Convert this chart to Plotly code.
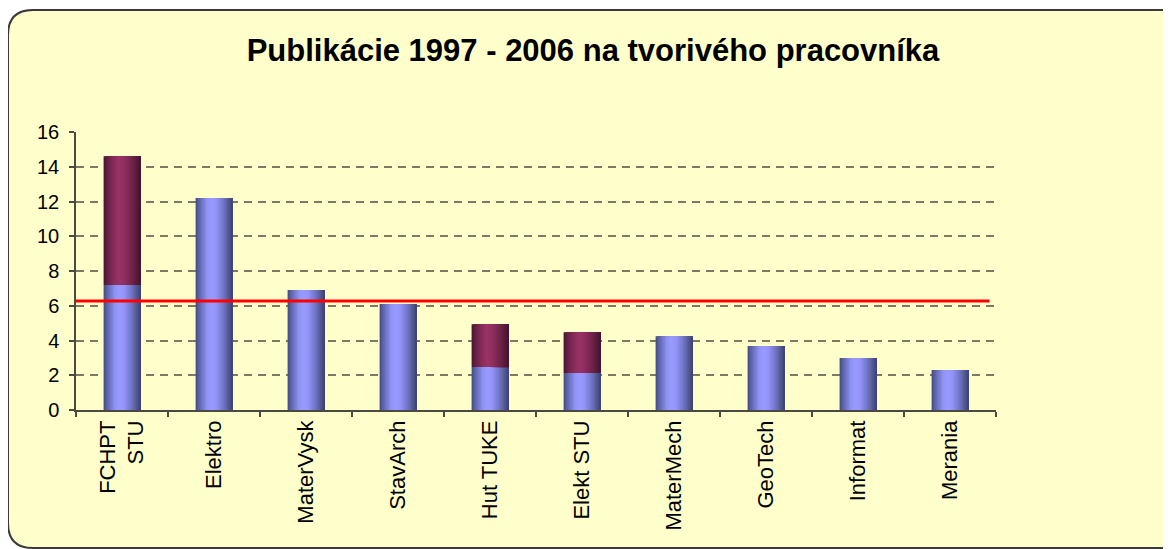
import plotly.graph_objects as go

# ---- data ----
categories = ["FCHPT<br>STU", "Elektro", "MaterVysk", "StavArch", "Hut TUKE",
              "Elekt STU", "MaterMech", "GeoTech", "Informat", "Merania"]
lower_values = [7.2, 12.2, 6.9, 6.1, 2.47, 2.13, 4.25, 3.68, 2.99, 2.3]
upper_values = [7.4, None, None, None, 2.47, 2.35, None, None, None, None]
average_value = 6.27
y_ticks = [0, 2, 4, 6, 8, 10, 12, 14, 16]
title_text = "Publikácie 1997 - 2006 na tvorivého pracovníka"

# ---- styling ----
W, H = 1171, 549
OFF = 8  # page body margin offset
L, T = 76 - OFF, 132 - OFF
PW, PH = 920, 278
R = W - L - PW
B = H - T - PH
FONT = "Liberation Sans, Arial, sans-serif"
BAR_W = 0.4
N_SLICES = 28


def hex2rgb(h):
    h = h.lstrip("#")
    return tuple(int(h[i:i + 2], 16) for i in (0, 2, 4))


def shade(stops, t):
    for (t0, c0), (t1, c1) in zip(stops, stops[1:]):
        if t0 <= t <= t1:
            f = 0 if t1 == t0 else (t - t0) / (t1 - t0)
            a, b = hex2rgb(c0), hex2rgb(c1)
            return "rgb(%d,%d,%d)" % tuple(round(a[k] + (b[k] - a[k]) * f) for k in range(3))
    return stops[-1][1]


blue_stops = [(0, "#444a82"), (0.12, "#6469b4"), (0.32, "#9096f4"), (0.42, "#9999ff"),
              (0.55, "#9595fa"), (0.75, "#7277c8"), (0.9, "#535893"), (1, "#3e4270")]
plum_stops = [(0, "#4a1430"), (0.12, "#6a2248"), (0.32, "#8e2f5e"), (0.42, "#993366"),
              (0.55, "#932f60"), (0.75, "#74244c"), (0.9, "#581b3a"), (1, "#45132c")]

fig = go.Figure()

upper_base = [lo if up is not None else None for lo, up in zip(lower_values, upper_values)]

for values, base, stops in [(lower_values, None, blue_stops),
                            (upper_values, upper_base, plum_stops)]:
    for i in range(N_SLICES):
        t = (i + 0.5) / N_SLICES
        fig.add_trace(go.Bar(
            x=categories, y=values, base=base,
            width=BAR_W * (1 - i / N_SLICES),
            offset=-BAR_W / 2 + BAR_W * i / N_SLICES,
            marker=dict(color=shade(stops, t), line=dict(width=0)),
            showlegend=False, hoverinfo="skip",
        ))


# rounded background panel (figure pixel -> paper conversion)
def px(x):
    return (x - L) / PW


def py(y):
    return (T + PH - y) / PH


x0, y0, x1, y1, r = 8 - OFF, 10 - OFF, 1186 - OFF, 548 - OFF, 25
path = (f"M {px(x0 + r)},{py(y0)} L {px(x1 - r)},{py(y0)} "
        f"Q {px(x1)},{py(y0)} {px(x1)},{py(y0 + r)} "
        f"L {px(x1)},{py(y1 - r)} Q {px(x1)},{py(y1)} {px(x1 - r)},{py(y1)} "
        f"L {px(x0 + r)},{py(y1)} Q {px(x0)},{py(y1)} {px(x0)},{py(y1 - r)} "
        f"L {px(x0)},{py(y0 + r)} Q {px(x0)},{py(y0)} {px(x0 + r)},{py(y0)} Z")

fig.add_shape(type="path", path=path, xref="paper", yref="paper",
              fillcolor="#FFFFCC", line=dict(color="#3a3a3a", width=2), layer="below")

fig.add_shape(type="line", xref="paper", yref="y", x0=0, x1=0.993,
              y0=average_value, y1=average_value,
              line=dict(color="#FF0000", width=3), layer="above")

fig.update_layout(
    width=W, height=H,
    margin=dict(l=L, r=R, t=T, b=B),
    paper_bgcolor="white",
    plot_bgcolor="rgba(0,0,0,0)",
    barmode="overlay",
    font=dict(family=FONT, color="black"),
    title=dict(text=title_text, x=(593 - OFF) / W, xanchor="center", y=1 - (50 - OFF) / H,
               yanchor="middle", yref="container",
               font=dict(family=FONT, size=31, color="black", weight="bold")),
)

fig.update_xaxes(
    type="category", range=[-0.5, 9.5],
    showline=True, linecolor="#4a4a40", linewidth=1.5,
    ticks="outside", tickson="boundaries", ticklen=5, tickcolor="#4a4a40", tickwidth=1.5,
    tickangle=-90, tickfont=dict(size=22, family=FONT, color="black"),
    showgrid=False,
)
fig.update_yaxes(
    range=[0, 16], tickvals=y_ticks,
    showline=True, linecolor="#4a4a40", linewidth=1.5,
    ticks="outside", ticklen=5, tickcolor="#4a4a40", tickwidth=1.5,
    tickfont=dict(size=20, family=FONT, color="black"),
    showgrid=True, gridcolor="#7a7a66", gridwidth=2, griddash="8px,6px",
    zeroline=False, ticklabelstandoff=6,
)

fig.write_html("out.html")
